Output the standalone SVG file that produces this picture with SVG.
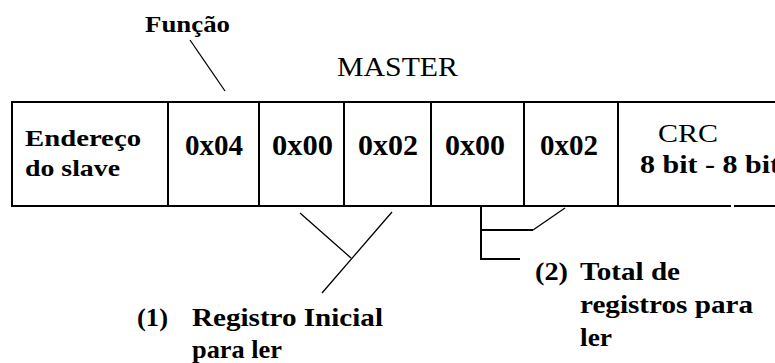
<svg xmlns="http://www.w3.org/2000/svg" width="775" height="363" viewBox="0 0 775 363">
<style>
text{font-family:'Liberation Serif','Times New Roman',serif;fill:#000;font-weight:bold}
.r{font-weight:normal}
.ln{stroke:#000;stroke-width:2;fill:none}
.thin{stroke:#000;stroke-width:1.3;fill:none}
</style>
<rect width="775" height="363" fill="#fff"/>
<g id="titles">
<text x="145" y="32" font-size="23" textLength="85" lengthAdjust="spacingAndGlyphs">Função</text>
<text class="r" x="337" y="76" font-size="27" textLength="121" lengthAdjust="spacingAndGlyphs">MASTER</text>
</g>
<g id="frame">
<path class="ln" d="M775 102H12V206H731M734 206H775"/>
<path class="ln" d="M168 102V206M259 102V206M344 102V206M431 102V206M524 102V206M618 102V206"/>
</g>
<g id="cell-endereco">
<text x="25" y="146" font-size="23" textLength="116" lengthAdjust="spacingAndGlyphs">Endereço</text>
<text x="25" y="176" font-size="23" textLength="95" lengthAdjust="spacingAndGlyphs">do slave</text>
</g>
<g id="cell-funcao"><text x="185" y="155" font-size="29" textLength="58" lengthAdjust="spacingAndGlyphs">0x04</text></g>
<g id="cell-reg-hi"><text x="272" y="155" font-size="29" textLength="61" lengthAdjust="spacingAndGlyphs">0x00</text></g>
<g id="cell-reg-lo"><text x="358" y="155" font-size="29" textLength="60" lengthAdjust="spacingAndGlyphs">0x02</text></g>
<g id="cell-qty-hi"><text x="445" y="155" font-size="29" textLength="60" lengthAdjust="spacingAndGlyphs">0x00</text></g>
<g id="cell-qty-lo"><text x="540" y="155" font-size="29" textLength="58" lengthAdjust="spacingAndGlyphs">0x02</text></g>
<g id="cell-crc">
<text class="r" x="658" y="142" font-size="26" textLength="60" lengthAdjust="spacingAndGlyphs">CRC</text>
<text x="640" y="173" font-size="26" textLength="140" lengthAdjust="spacingAndGlyphs">8 bit - 8 bit</text>
</g>
<g id="label-1">
<text x="137" y="326" font-size="26" textLength="31" lengthAdjust="spacingAndGlyphs">(1)</text>
<text x="192" y="326" font-size="26" textLength="191" lengthAdjust="spacingAndGlyphs">Registro Inicial</text>
<text x="192" y="358" font-size="26" textLength="90" lengthAdjust="spacingAndGlyphs">para ler</text>
</g>
<g id="label-2">
<text x="535" y="280" font-size="26" textLength="33" lengthAdjust="spacingAndGlyphs">(2)</text>
<text x="580" y="280" font-size="26" textLength="100" lengthAdjust="spacingAndGlyphs">Total de</text>
<text x="580" y="313" font-size="26" textLength="173" lengthAdjust="spacingAndGlyphs">registros para</text>
<text x="580" y="346" font-size="26" textLength="32" lengthAdjust="spacingAndGlyphs">ler</text>
</g>
<g id="connectors">
<path class="thin" d="M190 40L225 91"/>
<path class="thin" d="M300 213L351 258M392 212L322 293"/>
<path class="ln" d="M481 207V259H520M481 230H533"/>
<path class="thin" d="M533 230L565 208"/>
</g>
</svg>
